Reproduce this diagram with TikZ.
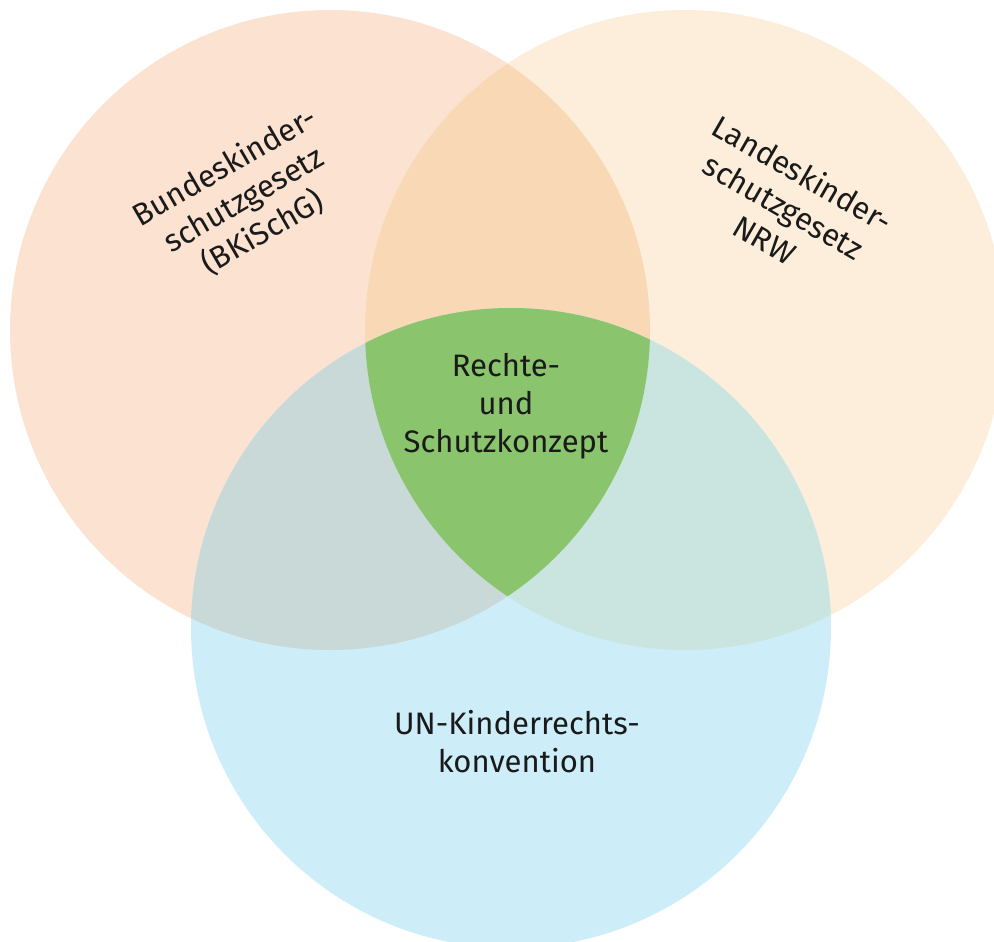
\documentclass[tikz,border=0pt]{standalone}
\usepackage{fontspec}
\setmainfont{Fira Sans}
\definecolor{bundfill}{HTML}{FBE2D1}
\definecolor{landfill}{HTML}{FCEEDA}
\definecolor{unfill}{HTML}{CDEDF9}
\definecolor{bundland}{HTML}{F9D8B6}
\definecolor{bundun}{HTML}{C9D9D8}
\definecolor{landun}{HTML}{CAE4DF}
\definecolor{mitte}{HTML}{8AC46C}
\definecolor{schrift}{HTML}{1A1A1A}
\tikzset{
  venntext/.style={align=center, text=schrift, font=\fontsize{26.5}{32.5}\selectfont, inner sep=0pt}
}
\begin{document}
\begin{tikzpicture}[x=0.03cm, y=-0.03cm]
    \useasboundingbox (0, 0) rectangle (994, 942);
    \clip (0, 0) rectangle (994, 942);
    \def\rad{320}
    % circles
    \fill[bundfill] (330, 330) circle (\rad);
    \fill[landfill] (685, 330) circle (\rad);
    \fill[unfill]   (511, 628) circle (\rad);
    % overlaps
    \begin{scope}
      \clip (330, 330) circle (\rad);
      \fill[bundland] (685, 330) circle (\rad);
      \fill[bundun]   (511, 628) circle (\rad);
    \end{scope}
    \begin{scope}
      \clip (685, 330) circle (\rad);
      \fill[landun] (511, 628) circle (\rad);
      \clip (330, 330) circle (\rad);
      \fill[mitte] (511, 628) circle (\rad);
    \end{scope}
    % labels
    \node[venntext, rotate=30]  (bund)  at (244, 200) {Bundeskinder-\\schutzgesetz\\(BKiSchG)};
    \node[venntext, rotate=-30] (land)  at (784, 206) {Landeskinder-\\schutzgesetz\\NRW};
    \node[venntext]             (mitte) at (506, 406) {Rechte-\\und\\Schutzkonzept};
    \node[venntext]             (un)    at (517, 742) {UN-Kinderrechts-\\konvention};
  \end{tikzpicture}
\end{document}
